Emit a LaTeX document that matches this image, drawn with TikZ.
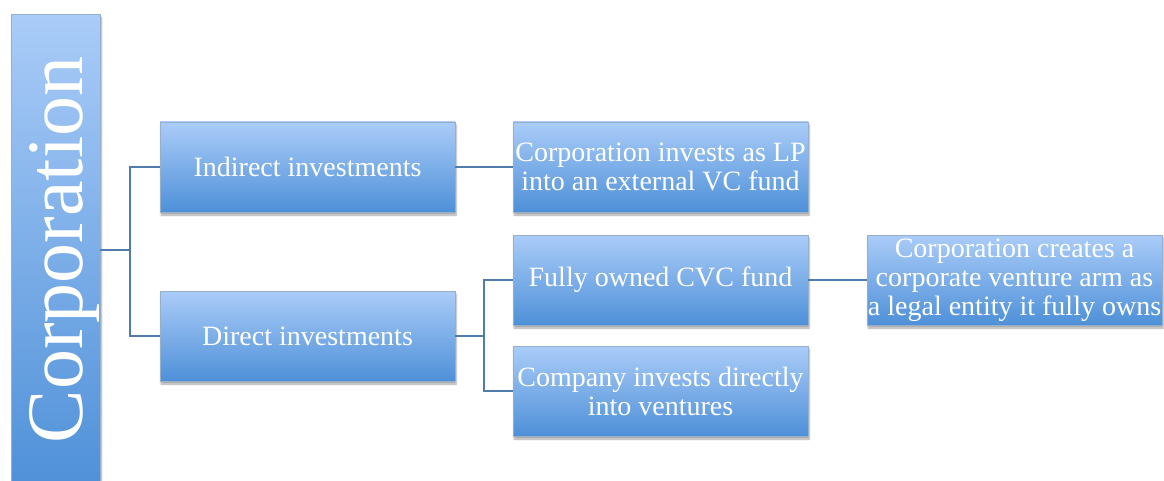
\documentclass[tikz,border=0pt]{standalone}
\usepackage{fontspec}
\setmainfont{Liberation Serif}
\usetikzlibrary{shadows.blur}
\definecolor{boxtop}{RGB}{170,204,248}
\definecolor{boxbot}{RGB}{78,144,216}
\definecolor{boxline}{RGB}{150,175,205}
\definecolor{conn}{RGB}{80,125,172}
\begin{document}
\begin{tikzpicture}[x=1pt,y=-1pt,
  box/.style={rectangle, draw=boxline, line width=0.6pt, top color=boxtop, bottom color=boxbot,
    minimum width=295pt, minimum height=90pt, inner sep=0pt, text=white, align=center,
    font=\fontsize{28}{29}\selectfont,
    blur shadow={shadow blur steps=6, shadow xshift=1pt, shadow yshift=-3pt, shadow opacity=35}},
  link/.style={draw=conn, line width=2.2pt}]
\useasboundingbox (0,0) rectangle (1164,481);
% Corporation column
\node[box, minimum width=89pt, minimum height=476pt, anchor=north west] (corp) at (11,14) {};
\node[text=white, rotate=90, anchor=base, font=\fontsize{80}{80}\selectfont, inner sep=0pt] (corptext) at (82,250) {Corporation};
\coordinate (corpout) at (100,250);
% second level
\node[box] (ind) at (307.5,167) {Indirect investments};
\node[box] (dir) at (307.5,336) {Direct investments};
% third level
\node[box] (lp) at (660.5,167) {Corporation invests as LP\\into an external VC fund};
\node[box] (cvc) at (660.5,280) {Fully owned CVC fund};
\node[box] (comp) at (660.5,391) {Company invests directly\\into ventures};
% fourth level
\node[box] (arm) at (1014.5,280) {Corporation creates a\\corporate venture arm as\\a legal entity it fully owns};
% connectors
\draw[link] (corpout) -- (130,250) |- (ind.west);
\draw[link] (130,250) |- (dir.west);
\draw[link] (ind.east) -- (lp.west);
\draw[link] (dir.east) -- (484,336) |- (cvc.west);
\draw[link] (484,336) |- (comp.west);
\draw[link] (cvc.east) -- (arm.west);
\end{tikzpicture}
\end{document}
